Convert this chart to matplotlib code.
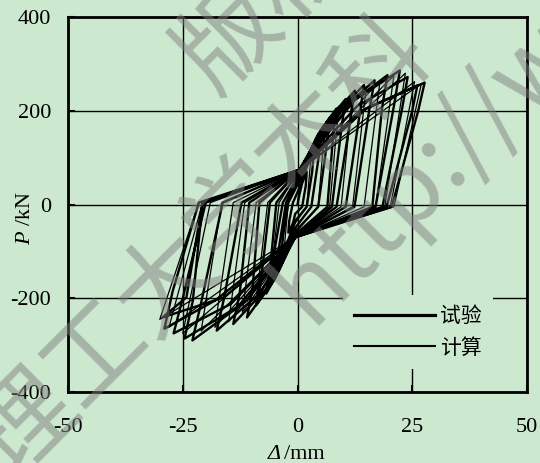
import matplotlib
matplotlib.use("Agg")
from matplotlib import pyplot as plt

# ---- data (mm, kN) ----
# x of the pinch points where reloading lines meet near the origin
pinch_pos_d = 0.4
pinch_neg_d = -0.5

# 试验 (test), one entry per cycle
exp_pos_pinch_P = [20, 35, 50, 60, 65, 70, 74, 74, 74, 74, 74, 74, 74, 74]
exp_pos_knee_d = [1.0, 2.0, 3.0, 4.0, 4.5, 5.5, 6.5, 7.5, 8.5, 10.0, 12.0, 13.0, 14.0, 15.0]
exp_pos_knee_P = [45, 80, 115, 140, 150, 165, 178, 185, 192, 205, 220, 210, 200, 205]
exp_pos_peak_d = [2.0, 3.5, 5.0, 7.0, 8.5, 10.5, 12.5, 14.5, 16.8, 19.6, 22.3, 24.0, 26.1, 27.7]
exp_pos_peak_P = [70, 110, 150, 185, 205, 225, 243, 255, 265, 276, 286, 272, 254, 260]
exp_pos_unl_d = [1.8, 3.2, 4.6, 6.4, 7.8, 9.6, 11.5, 13.5, 15.6, 18.4, 21.0, 22.8, 25.0, 26.3]
exp_pos_unl_P = [40, 70, 100, 130, 150, 165, 180, 190, 200, 205, 210, 205, 200, 200]
exp_pos_zero_d = [1.0, 2.0, 3.0, 4.5, 6.5, 7.5, 8.5, 10.5, 12.4, 16.3, 17.0, 18.5, 19.4, 20.5]
exp_neg_pinch_P = [-20, -35, -50, -58, -64, -68, -70, -70, -70, -70, -70, -70, -70, -70]
exp_neg_knee_d = [-1.0, -2.0, -2.5, -3.5, -4.0, -5.0, -6.0, -7.0, -8.5, -11.0, -13.0, -14.5, -16.0, -18.0]
exp_neg_knee_P = [-40, -75, -100, -125, -140, -160, -172, -182, -192, -205, -218, -212, -198, -205]
exp_neg_peak_d = [-2.0, -3.5, -4.5, -6.0, -6.8, -9.0, -11.0, -14.0, -17.6, -22.9, -24.6, -27.0, -29.4, -29.0]
exp_neg_peak_P = [-60, -100, -130, -165, -190, -215, -241, -255, -269, -290, -286, -275, -241, -265]
exp_neg_unl_d = [-1.8, -3.1, -4.0, -5.4, -6.0, -8.0, -9.8, -12.6, -16.0, -21.0, -22.8, -25.0, -24.2, -27.2]
exp_neg_unl_P = [-35, -65, -90, -120, -140, -165, -180, -190, -200, -210, -205, -200, -198, -185]
exp_neg_zero_d = [-1.0, -2.0, -2.5, -3.2, -4.6, -6.0, -8.3, -10.5, -12.2, -16.3, -20.7, -20.0, -20.7, -21.5]

# 计算 (model), one entry per cycle
calc_pos_pinch_P = [40, 60, 74, 74, 74, 74, 74, 74, 74, 74]
calc_pos_peak_d = [3.0, 6.0, 9.0, 12.0, 15.0, 18.0, 21.0, 23.5, 25.5, 27.0]
calc_pos_peak_P = [110, 170, 210, 235, 252, 265, 275, 280, 262, 258]
calc_pos_zero_d = [2.0, 4.5, 7.0, 9.5, 12.0, 14.5, 17.0, 19.0, 20.2, 21.0]
calc_neg_pinch_P = [-40, -60, -70, -70, -70, -70, -70, -70, -70, -70]
calc_neg_peak_d = [-3.0, -6.0, -9.0, -12.0, -15.0, -18.0, -21.0, -25.0, -28.0, -30.0]
calc_neg_peak_P = [-105, -165, -205, -230, -250, -262, -270, -275, -262, -245]
calc_neg_zero_d = [-2.0, -4.0, -6.5, -9.0, -11.5, -14.0, -16.5, -19.0, -20.7, -21.5]

x_ticks = [-50, -25, 0, 25, 50]
y_ticks = [-400, -200, 0, 200, 400]

bg = '#cce8cf'

plt.rcParams['font.family'] = ['Liberation Serif', 'Noto Sans CJK SC']
plt.rcParams['axes.unicode_minus'] = False
plt.rcParams['mathtext.fontset'] = 'custom'
plt.rcParams['mathtext.rm'] = 'Liberation Serif'
plt.rcParams['mathtext.it'] = 'Liberation Serif:italic'

fig = plt.figure(figsize=(5.4, 4.63), dpi=100, facecolor=bg)
ax = fig.add_axes([68 / 540, 1 - 392 / 463, (527 - 68) / 540, (392 - 17) / 463])
ax.set_facecolor(bg)

# test path
ex, ey = [0.0], [0.0]
for i in range(len(exp_pos_peak_d)):
    ex += [pinch_pos_d, exp_pos_knee_d[i], exp_pos_peak_d[i], exp_pos_unl_d[i], exp_pos_zero_d[i],
           pinch_neg_d, exp_neg_knee_d[i], exp_neg_peak_d[i], exp_neg_unl_d[i], exp_neg_zero_d[i]]
    ey += [exp_pos_pinch_P[i], exp_pos_knee_P[i], exp_pos_peak_P[i], exp_pos_unl_P[i], -5,
           exp_neg_pinch_P[i], exp_neg_knee_P[i], exp_neg_peak_P[i], exp_neg_unl_P[i], 4]
ex.append(pinch_pos_d)
ey.append(exp_pos_pinch_P[-1])

# model path
cx, cy = [0.0], [0.0]
for i in range(len(calc_pos_peak_d)):
    cx += [pinch_pos_d, calc_pos_peak_d[i], calc_pos_zero_d[i],
           pinch_neg_d, calc_neg_peak_d[i], calc_neg_zero_d[i]]
    cy += [calc_pos_pinch_P[i], calc_pos_peak_P[i], -5,
           calc_neg_pinch_P[i], calc_neg_peak_P[i], 4]
cx.append(pinch_pos_d)
cy.append(calc_pos_pinch_P[-1])

ax.plot(ex, ey, color='black', lw=1.7, label='试验', zorder=3)
ax.plot(cx, cy, color='black', lw=0.9, label='计算', zorder=3)

ax.set_xlim(-50, 50)
ax.set_ylim(-400, 400)
ax.set_xticks(x_ticks)
ax.set_yticks(y_ticks)
ax.grid(True, color='black', lw=1.0)
ax.set_axisbelow(True)
for s in ax.spines.values():
    s.set_linewidth(2.0)
ax.tick_params(direction='in', length=5, width=1.5, labelsize=16)
ax.tick_params(axis='x', pad=19)
ax.tick_params(axis='y', pad=12)

# x label: italic Delta + upright unit (mathtext keeps capital Greek upright)
fig.text(281 / 540, 4 / 463, 'Δ', fontsize=16, fontstyle='italic', ha='right', va='baseline')
fig.text(284 / 540, 4 / 463, '/mm', fontsize=16, ha='left', va='baseline')
ax.set_ylabel(r'$\mathit{P}$ /kN', fontsize=16)
ax.yaxis.set_label_coords(-0.0715, 0.464)

leg = ax.legend(loc='center', bbox_to_anchor=(0.7625, 0.160), frameon=True,
                facecolor=bg, edgecolor='none', framealpha=1, fancybox=False,
                handlelength=3.9, handletextpad=0.25, labelspacing=0.45,
                borderpad=0.5, prop={'family': 'Noto Sans CJK SC', 'size': 15})
leg.set_zorder(4)
for ln in leg.get_lines():
    ln.set_linewidth(ln.get_linewidth() + 0.6)

# watermark
wm = dict(family='Noto Sans CJK SC', fontsize=72, fontweight='light', color='#808080',
          alpha=0.5, rotation=45, rotation_mode='anchor', ha='left', va='center')
fig.text(0.361, 0.838, '版权所有', **wm)
fig.text(-0.0185, 0.0065, '理工大学本科', **wm)
fig.text(0.537, 0.341, 'http://www', **wm)

fig.savefig('out.png', dpi=100, facecolor=bg)
